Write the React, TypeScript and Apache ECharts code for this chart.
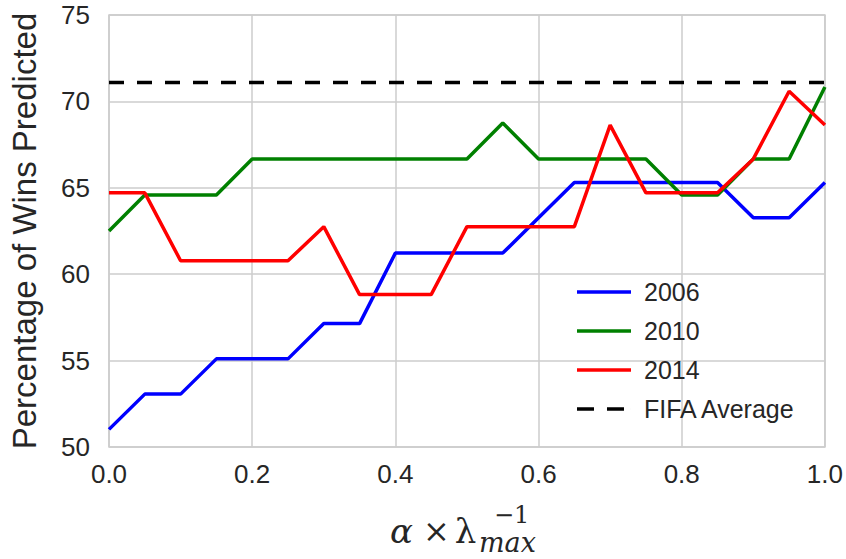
import React, { useEffect, useRef } from "react";
import * as echarts from "echarts";

const alphas = [0, 0.05, 0.1, 0.15, 0.2, 0.25, 0.3, 0.35, 0.4, 0.45, 0.5, 0.55, 0.6, 0.65, 0.7, 0.75, 0.8, 0.85, 0.9, 0.95, 1.0];
const wins2006 = [51.02, 53.06, 53.06, 55.1, 55.1, 55.1, 57.14, 57.14, 61.22, 61.22, 61.22, 61.22, 63.27, 65.31, 65.31, 65.31, 65.31, 65.31, 63.27, 63.27, 65.31];
const wins2010 = [62.5, 64.58, 64.58, 64.58, 66.67, 66.67, 66.67, 66.67, 66.67, 66.67, 66.67, 68.75, 66.67, 66.67, 66.67, 66.67, 64.58, 64.58, 66.67, 66.67, 70.83];
const wins2014 = [64.71, 64.71, 60.78, 60.78, 60.78, 60.78, 62.75, 58.82, 58.82, 58.82, 62.75, 62.75, 62.75, 62.75, 68.63, 64.71, 64.71, 64.71, 66.67, 70.59, 68.63];
const fifaX = [0, 1];
const fifaAverage = [71.1, 71.1];
const seriesNames = ["2006", "2010", "2014", "FIFA Average"];
const seriesColors = ["#0000ff", "#008000", "#ff0000", "#000000"];

const sansFont = "'Liberation Sans', Arial, sans-serif";
const mathFont = "'DejaVu Serif', 'Liberation Serif', serif";

const solidIcon = "path://M0,0H54V3.5H0Z";
const dashedIcon = "path://M0,0H17V3.5H0Z M30,0H47V3.5H30Z M54,0H54.01V3.5H54Z";

export default function App() {
  const ref = useRef<HTMLDivElement>(null);
  useEffect(() => {
    if (!ref.current) return;
    const chart = echarts.init(ref.current, null, { renderer: "svg" });
    const pair = (xs: number[], ys: number[]) => xs.map((x, i) => [x, ys[i]]);
    const lineSeries = (name: string, data: number[][], color: string, dashed = false) => ({
      name,
      type: "line",
      data,
      symbol: "none",
      smooth: false,
      lineStyle: { color, width: 3.5, type: dashed ? [15, 13] : "solid", cap: "butt" },
      itemStyle: { color },
      z: dashed ? 3 : 2,
    });
    chart.setOption({
      animation: false,
      backgroundColor: "#ffffff",
      grid: { left: 108, right: 18.5, top: 15, bottom: 112, show: true, borderColor: "#cccccc", borderWidth: 1.5, containLabel: false },
      legend: {
        left: 572,
        top: 274,
        orient: "vertical",
        itemWidth: 54,
        itemHeight: 3.5,
        itemGap: 13,
        symbolKeepAspect: false,
        data: seriesNames.map((name, i) => ({ name, icon: i === 3 ? dashedIcon : solidIcon, itemStyle: { color: seriesColors[i] } })),
        textStyle: { fontFamily: sansFont, fontSize: 25, color: "#262626", lineHeight: 26, padding: [0, 0, 0, 8] },
      },
      xAxis: {
        type: "value",
        min: 0,
        max: 1,
        interval: 0.2,
        axisLine: { show: false },
        axisTick: { show: false },
        splitLine: { show: true, lineStyle: { color: "#cccccc", width: 1.5 } },
        axisLabel: {
          margin: 14,
          fontFamily: sansFont,
          fontSize: 26,
          color: "#262626",
          formatter: (v: number) => v.toFixed(1),
        },
      },
      yAxis: {
        type: "value",
        min: 50,
        max: 75,
        interval: 5,
        name: "Percentage of Wins Predicted",
        nameLocation: "middle",
        nameGap: 68,
        nameTextStyle: { fontFamily: sansFont, fontSize: 33, color: "#262626" },
        axisLine: { show: false },
        axisTick: { show: false },
        splitLine: { show: true, lineStyle: { color: "#cccccc", width: 1.5 } },
        axisLabel: { margin: 19, fontFamily: sansFont, fontSize: 26, color: "#262626" },
      },
      graphic: [
        {
          type: "text",
          left: 390,
          top: 514,
          style: {
            text: "{a|α}{x|×}{b|λ}",
            rich: {
              a: { font: `italic 34px ${mathFont}`, fill: "#262626" },
              x: { font: `32px ${mathFont}`, fill: "#262626", padding: [0, 5, 0, 10] },
              b: { font: `34px ${mathFont}`, fill: "#262626" },
            },
          },
        },
        {
          type: "text",
          left: 494,
          top: 502,
          style: { text: "−1", font: `24px ${mathFont}`, fill: "#262626", lineHeight: 26 },
        },
        {
          type: "text",
          left: 479,
          top: 529,
          style: { text: "max", font: `italic 27px ${mathFont}`, fill: "#262626", lineHeight: 27 },
        },
      ],
      series: [
        lineSeries(seriesNames[0], pair(alphas, wins2006), seriesColors[0]),
        lineSeries(seriesNames[1], pair(alphas, wins2010), seriesColors[1]),
        lineSeries(seriesNames[2], pair(alphas, wins2014), seriesColors[2]),
        lineSeries(seriesNames[3], pair(fifaX, fifaAverage), seriesColors[3], true),
      ],
    });
    return () => chart.dispose();
  }, []);
  return <div ref={ref} style={{ position: "fixed", left: 0, top: 0, width: 846, height: 559 }} />;
}
